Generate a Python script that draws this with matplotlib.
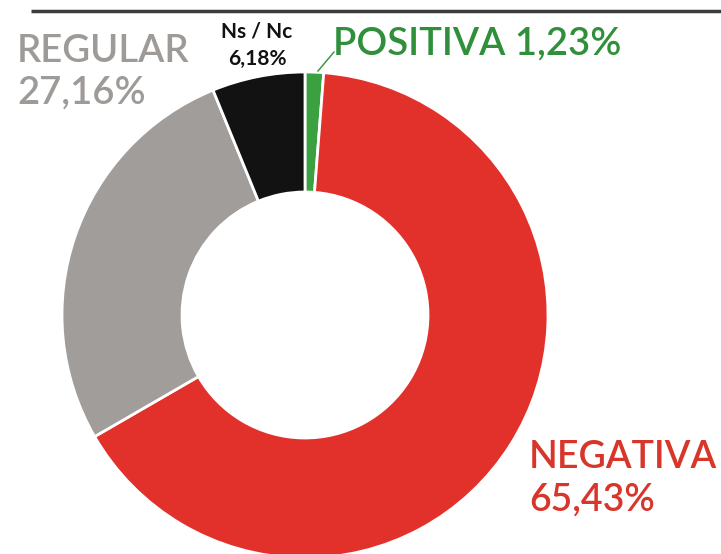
import matplotlib
matplotlib.use('Agg')
import matplotlib.pyplot as plt

labels = ['POSITIVA', 'NEGATIVA', 'REGULAR', 'Ns / Nc']
values = [1.23, 65.43, 27.16, 6.18]
value_text = ['1,23%', '65,43%', '27,16%', '6,18%']
colors = ['#3aa040', '#e2302a', '#a19d9b', '#121212']

W, H = 721, 554
fig = plt.figure(figsize=(W / 100, H / 100), dpi=100)
ax = fig.add_axes([0, 0, 1, 1])

cx, cy, r = 305, H - 315, 243
ax.pie(values, colors=colors, startangle=90, counterclock=False,
       center=(cx, cy), radius=r, frame=True,
       wedgeprops=dict(width=120, edgecolor='white', linewidth=2))
ax.set_xlim(0, W)
ax.set_ylim(0, H)
ax.set_aspect('equal')
ax.axis('off')

# top rule
ax.plot([31, W], [H - 11, H - 11], color='#3c3c3c', lw=2.5, solid_capstyle='butt')

font = 'Lato'
wt = 'semibold'
ax.text(17, H - 62, labels[2], color='#9e9a98', fontsize=27.5, family=font, weight=wt, va='baseline')
ax.text(17, H - 104, value_text[2], color='#9e9a98', fontsize=27.5, family=font, weight=wt, va='baseline')

ax.text(257, H - 38, labels[3], color='#111111', fontsize=15, family=font,
        weight='bold', ha='center', va='baseline')
ax.text(257, H - 65, value_text[3], color='#111111', fontsize=15, family=font,
        weight='bold', ha='center', va='baseline')

ax.text(333, H - 55, labels[0] + ' ' + value_text[0], color='#2f8f3a', fontsize=27.5,
        family=font, weight=wt, va='baseline')
ax.plot([318, 334], [H - 71, H - 52], color='#2f8f3a', lw=1)

ax.text(529, H - 468, labels[1], color='#d8362b', fontsize=27, family=font, weight=wt, va='baseline')
ax.text(529, H - 511, value_text[1], color='#d8362b', fontsize=27, family=font, weight=wt, va='baseline')

fig.savefig('out.png', dpi=100)
